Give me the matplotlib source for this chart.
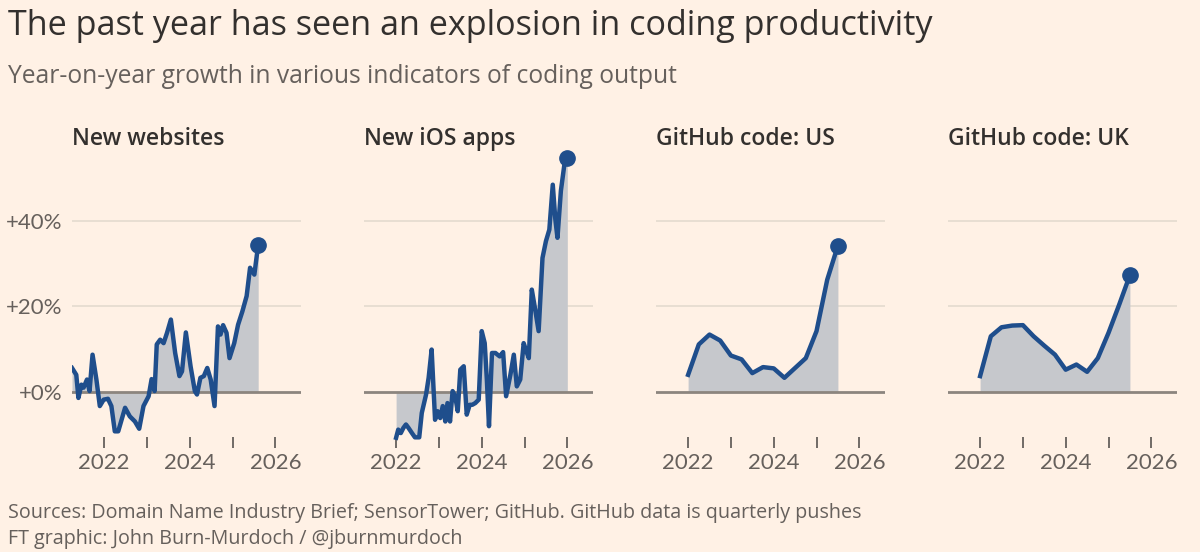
import numpy as np
import matplotlib
matplotlib.use('Agg')
import matplotlib.pyplot as plt

plt.rcParams['font.family'] = ['Open Sans', 'Lato', 'DejaVu Sans']

# ---- data (% year-on-year growth) ----
web_years = [2021.25, 2021.35, 2021.40, 2021.47, 2021.52, 2021.60, 2021.66, 2021.73, 2021.82, 2021.90, 2021.99,
             2022.09, 2022.17, 2022.25, 2022.33, 2022.49, 2022.60, 2022.72, 2022.82, 2022.92,
             2023.04, 2023.11, 2023.18, 2023.23, 2023.31, 2023.39, 2023.47, 2023.56, 2023.66, 2023.76, 2023.82, 2023.91,
             2024.02, 2024.12, 2024.17, 2024.25, 2024.33, 2024.41, 2024.49, 2024.58, 2024.66, 2024.72, 2024.78, 2024.86, 2024.93,
             2025.04, 2025.13, 2025.23, 2025.33, 2025.41, 2025.51, 2025.60]
web_values = [5.6, 4.0, -1.4, 1.7, 1.0, 2.9, 0.2, 8.7, 2.9, -3.3, -1.8,
              -1.6, -3.3, -9.2, -9.2, -3.7, -5.7, -6.9, -8.6, -3.3,
              -1.0, 3.0, 0.2, 11.1, 12.2, 11.4, 13.8, 16.9, 9.1, 3.7, 4.8, 13.9,
              6.0, 0.2, -0.6, 3.3, 3.7, 5.6, 2.9, -3.3, 15.3, 13.4, 15.6, 13.8, 7.9,
              11.4, 15.7, 18.8, 22.4, 29.0, 27.4, 34.4]

ios_years = [2022.00, 2022.05, 2022.11, 2022.17, 2022.23, 2022.29, 2022.37, 2022.44, 2022.54, 2022.60, 2022.70,
             2022.76, 2022.83, 2022.91, 2022.97,
             2023.03, 2023.09, 2023.15, 2023.20, 2023.26, 2023.32, 2023.38, 2023.44, 2023.50, 2023.58, 2023.65,
             2023.72, 2023.78, 2023.85, 2023.93,
             2024.00, 2024.07, 2024.12, 2024.17, 2024.24, 2024.32, 2024.42, 2024.50, 2024.57, 2024.67, 2024.75,
             2024.82, 2024.90, 2024.98,
             2025.03, 2025.10, 2025.17, 2025.25, 2025.33, 2025.42, 2025.50, 2025.58, 2025.66, 2025.72, 2025.77,
             2025.85, 2025.93, 2026.00]
ios_values = [-10.7, -8.8, -9.6, -8.4, -7.6, -8.4, -9.6, -10.6, -10.6, -4.9, -0.6, 3.3, 9.9, -6.5, -4.5,
              -6.1, -3.3, -6.9, -2.6, -6.9, 0.2, -1.0, -4.5, 5.2, 6.0, -5.3, -3.0, -3.0, -2.6, -1.8,
              14.2, 11.4, 2.9, -8.0, 9.1, 9.1, 8.3, 9.3, -1.0, 4.0, 8.7, 1.3, 2.9, 11.4,
              9.9, 7.9, 23.9, 19.2, 14.2, 31.3, 35.2, 37.9, 48.4, 40.3, 36.0, 47.0, 53.0, 54.7]

# GitHub pushes are quarterly
gh_quarters = [2022.00, 2022.25, 2022.50, 2022.75, 2023.00, 2023.25, 2023.50, 2023.75,
               2024.00, 2024.25, 2024.50, 2024.75, 2025.00, 2025.25, 2025.50]
us_values = [4.0, 11.1, 13.4, 12.0, 8.5, 7.6, 4.4, 5.8, 5.5, 3.3, 5.6, 7.9, 14.2, 26.2, 34.2]
uk_values = [3.7, 13.0, 15.1, 15.5, 15.6, 13.0, 10.8, 8.7, 5.2, 6.4, 4.7, 7.9, 13.8, 20.4, 27.3]

panel_titles = ['New websites', 'New iOS apps', 'GitHub code: US', 'GitHub code: UK']
panel_data = [(web_years, web_values), (ios_years, ios_values),
              (gh_quarters, us_values), (gh_quarters, uk_values)]

year_ticks = [2022, 2023, 2024, 2025, 2026]
year_labels = ['2022', '', '2024', '', '2026']
pct_ticks = [0, 20, 40]
pct_labels = ['+0%', '+20%', '+40%']

# ---- style ----
BG = '#fff1e5'
LINE = '#1f4e8c'
FILL = '#c6c8cc'
ZERO = '#8c857e'
GRID = '#e6dcd1'
DARK = '#33302e'
GREY = '#66605c'

W, H = 1200, 552
fig = plt.figure(figsize=(W / 100, H / 100), dpi=100, facecolor=BG)

lefts_px = [72, 364, 656, 948]
ax_w = 229 / W
ax_bottom = (H - 447.6) / H
ax_h = (447.6 - 143.6) / H

for i, (left, title, (xs, ys)) in enumerate(zip(lefts_px, panel_titles, panel_data)):
    ax = fig.add_axes([left / W, ax_bottom, ax_w, ax_h])
    ax.set_facecolor(BG)
    ax.set_xlim(2021.25, 2026.6)
    ax.set_ylim(-13, 58)

    for g in [20, 40]:
        ax.axhline(g, color=GRID, lw=1.3, zorder=0)
    ax.fill_between(xs, ys, 0, color=FILL, lw=0, zorder=1)
    ax.axhline(0, color=ZERO, lw=2, zorder=2)
    ax.plot(xs, ys, color=LINE, lw=3.2, zorder=3, solid_joinstyle='round')
    ax.plot(xs[-1], ys[-1], 'o', ms=11, color=LINE, zorder=4)

    for s in ax.spines.values():
        s.set_visible(False)

    ax.set_xticks(year_ticks)
    ax.set_xticklabels(year_labels)
    ax.tick_params(axis='x', direction='in', length=8, width=1.3, color=GREY,
                   labelsize=16, labelcolor=GREY, pad=4)
    for lab in ax.get_xticklabels():
        lab.set_family(['Lato', 'DejaVu Sans'])

    ax.set_yticks(pct_ticks)
    ax.set_yticklabels(pct_labels)
    ax.tick_params(axis='y', length=0, labelsize=16, labelcolor=GREY, pad=7,
                   labelleft=(i == 0))
    for lab in ax.get_yticklabels():
        lab.set_family(['Lato', 'DejaVu Sans'])

    fig.text(left / W, 1 - 145 / H, title, fontsize=16.5, fontweight='semibold',
             color=DARK, va='baseline', ha='left')

fig.text(8 / W, 1 - 35 / H, 'The past year has seen an explosion in coding productivity',
         fontsize=24.6, color=DARK, va='baseline', ha='left')
fig.text(8 / W, 1 - 83 / H, 'Year-on-year growth in various indicators of coding output',
         fontsize=17.7, color=GREY, va='baseline', ha='left')
fig.text(8 / W, 1 - 518 / H,
         'Sources: Domain Name Industry Brief; SensorTower; GitHub. GitHub data is quarterly pushes',
         fontsize=14.2, color=GREY, va='baseline', ha='left')
fig.text(8 / W, 1 - 544 / H, 'FT graphic: John Burn-Murdoch / @jburnmurdoch',
         fontsize=14.2, color=GREY, va='baseline', ha='left')

fig.savefig('out.png', dpi=100, facecolor=BG)
